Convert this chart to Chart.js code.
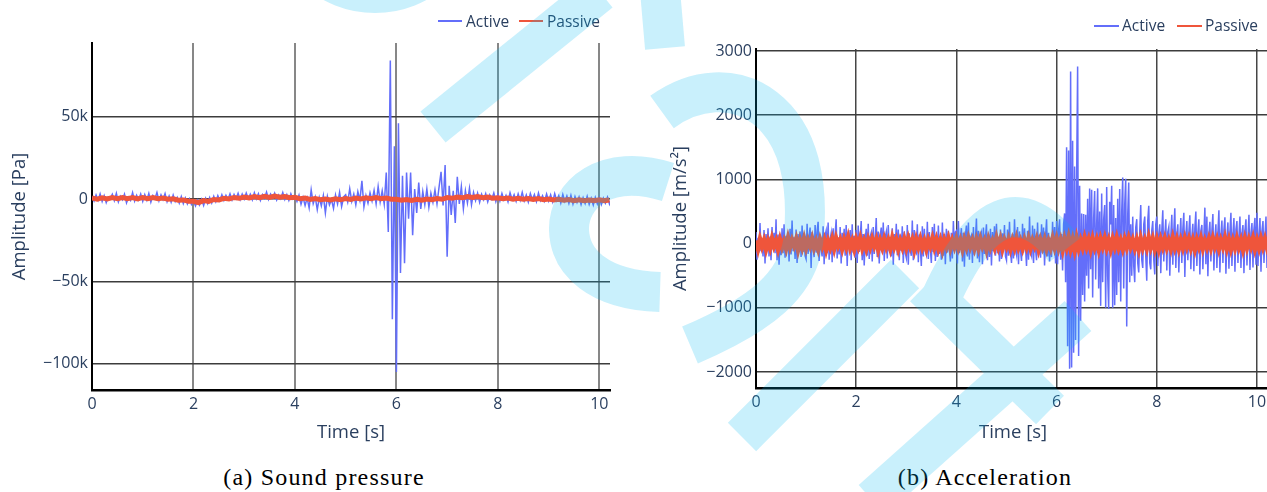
<!DOCTYPE html>
<html>
<head>
<meta charset="utf-8">
<script src="https://cdn.jsdelivr.net/npm/chart.js@4.4.1/dist/chart.umd.min.js"></script>
<style>
html, body { margin: 0; padding: 0; background: #fff; overflow: hidden; }
#page { position: relative; width: 1267px; height: 492px; overflow: hidden; background: #fff; }
canvas { position: absolute; top: 0; }
.sw { position: absolute; height: 2px; }
.lg { position: absolute; font-family: 'Open Sans', sans-serif; font-size: 15.5px; line-height: 20px; color: #2a3f5f; white-space: nowrap; }
.caption { position: absolute; top: 464px; font-family: 'Liberation Serif', serif; font-size: 24px; letter-spacing: 1.2px; color: #000; white-space: nowrap; transform: translateX(-50%); }
#mark { position: absolute; left: 0; top: 0; pointer-events: none; }
</style>
</head>
<body>
<div id="page">
  <canvas id="pressureChart" width="625" height="455" style="left:0px"></canvas>
  <canvas id="accelChart" width="635" height="455" style="left:640px"></canvas>

  <!-- legends -->
  <div class="sw" style="left:438px;top:20px;width:24px;background:#636efa"></div>
  <div class="lg" style="left:466px;top:11px">Active</div>
  <div class="sw" style="left:519px;top:20px;width:24px;background:#ef553b"></div>
  <div class="lg" style="left:547px;top:11px">Passive</div>

  <div class="sw" style="left:1094px;top:25px;width:25px;background:#636efa"></div>
  <div class="lg" style="left:1122px;top:15px">Active</div>
  <div class="sw" style="left:1177px;top:25px;width:25px;background:#ef553b"></div>
  <div class="lg" style="left:1205px;top:15px">Passive</div>

  <div class="caption" style="left:324px">(a) Sound pressure</div>
  <div class="caption" style="left:985px">(b) Acceleration</div>

  <!-- watermark -->
  <svg id="mark" width="1267" height="492" viewBox="0 0 1267 492">
    <g opacity="0.21" stroke="rgb(0,185,240)" fill="none" stroke-width="40">
      <circle cx="375" cy="-95" r="96" stroke-width="24"/>
      <path d="M433 127 L600 -8"/>
      <path d="M660 -10 L665 48"/>
      <path d="M662 112 C695 88 735 85 765 108 C800 135 808 185 804 235 C800 285 760 315 690 345"/>
      <path d="M668 182 C605 162 568 195 569 230 C570 262 598 290 660 292"/>
      <path d="M742 437 L905 274"/>
      <path d="M940 300 Q1000 165 1065 250"/>
      <path d="M872 500 L1078 316"/>
      <path d="M924 287 L1050 410"/>
    </g>
  </svg>
</div>

<script>
// axis ticks
const xTicks = [0, 2, 4, 6, 8, 10];
const pressureTicks = [-100000, -50000, 0, 50000];
const pressureTickLabels = ['\u2212100k', '\u221250k', '0', '50k'];
const accelTicks = [-2000, -1000, 0, 1000, 2000, 3000];
const accelTickLabels = ['\u22122000', '\u22121000', '0', '1000', '2000', '3000'];

// sample spacing (s) of the traces
const pressureActiveStep = 0.04;
const pressurePassiveStep = 0.1;
const accelActiveStep = 0.02;
const accelPassiveStep = 0.04;

// (a) sound pressure, kPa
const pressureActive = [
  1.5,-1.2,2.4,-0.8,3.1,-1.5,2.0,-2.2,1.2,0.3,2.8,-1.0,3.5,-1.8,1.6,-0.5,2.9,-2.4,1.1,-0.9,3.8,-1.3,2.2,-0.6,3.0,
  -1.4,2.6,-0.7,3.4,-1.9,2.1,0.2,3.9,-1.1,2.5,-0.4,3.2,-1.6,1.8,-2.0,2.3,-1.5,1.0,-2.5,1.4,-2.8,0.6,-3.0,0.1,-3.4,
  -1.2,-4.2,-0.8,-3.6,-0.2,-3.9,0.4,-2.8,0.9,-2.4,1.6,-1.7,2.0,-1.0,2.6,-0.9,2.2,-0.3,3.1,-0.6,2.8,0.2,3.4,-0.4,3.0,
  -0.1,3.6,0.3,2.9,-0.5,3.8,0.1,3.2,-0.8,2.7,0.4,4.2,-0.2,3.0,0.6,3.5,-0.6,2.4,0.2,3.9,-0.3,2.6,-0.9,3.1,0.0,
  1.8,-1.5,2.3,-3.2,1.0,-4.0,0.6,-5.5,5.5,-2.8,1.2,-6.5,0.8,-4.2,2.0,-8.5,1.5,-3.6,-0.3,-5.8,2.4,-3.0,4.0,-4.6,1.2,
  2.5,-2.0,6.2,-1.5,3.0,-3.5,4.4,-0.8,11.0,-4.8,2.1,-2.5,3.8,-1.2,5.2,-3.0,7.5,-1.8,5.0,-3.2,16.0,-20.0,84.0,-73.0,32.0,
  -105.0,46.0,-45.0,14.0,-39.0,16.0,-12.0,16.0,-22.0,6.0,-8.5,10.0,-6.0,4.5,-3.5,6.0,-5.0,3.5,-2.0,5.5,-3.0,7.0,16.5,-4.0,20.6,
  -35.0,8.0,-9.7,5.0,-14.5,13.5,-3.0,7.5,-6.0,5.0,-2.5,6.5,-3.5,4.0,-1.0,3.5,-2.0,2.8,-0.5,3.2,-1.8,2.5,-0.2,3.6,-1.5,
  2.9,-1.2,3.4,-0.6,2.2,-1.8,3.8,-0.3,2.6,-1.4,3.1,-0.8,4.0,-1.1,2.4,-1.9,3.3,-0.4,2.7,-1.6,3.6,-0.9,2.0,-1.3,3.0,
  -1.2,2.5,-1.8,3.2,-0.9,2.0,-2.4,2.7,-1.5,1.8,-2.6,2.2,-3.0,1.5,-2.2,1.2,-3.4,0.8,-2.8,1.6,-3.2,0.5,-3.6,1.0,-2.9,
  0.8,-3.4,0.4,-2.6,1.0,-3.1,0.2
];

// (a) sound pressure, kPa
const pressurePassive = [
  0.6,-0.1,0.7,0.0,0.8,0.1,0.9,0.2,0.8,0.0,
  0.9,0.2,0.8,0.1,0.6,-0.2,0.1,-0.8,-0.6,-1.4,
  -1.4,-2.2,-1.0,-1.5,-0.3,-0.6,0.4,0.0,0.9,0.4,
  1.2,0.6,1.5,0.8,1.6,0.9,1.7,1.0,1.5,0.8,
  1.0,0.2,0.5,-0.3,0.2,-0.5,0.0,-0.6,0.1,-0.4,
  0.2,-0.3,0.5,0.0,0.7,0.1,0.8,0.2,0.5,-0.2,
  -0.2,-0.8,-0.3,-0.9,-0.2,-0.7,0.0,-0.5,0.3,-0.2,
  0.8,0.4,1.2,0.7,1.5,0.9,1.4,0.8,1.1,0.5,
  0.7,0.1,0.5,-0.1,0.4,-0.2,0.3,-0.3,0.2,-0.4,
  0.0,-0.6,-0.2,-0.8,-0.4,-1.0,-0.5,-1.1,-0.6,-1.0,
  -0.5,-1.0,-0.6
];

// (b) acceleration, m/s²
const accelActive = [
  180,-250,90,-140,320,-120,60,-200,210,-310,150,-90,240,-200,110,-260,260,-90,170,-150,380,-260,140,-330,80,-180,240,-150,300,-220,120,-90,170,-280,230,-170,360,-120,100,-240,220,-300,150,-110,190,-210,280,-130,90,-190,
  -240,310,-160,110,250,-380,180,-60,-210,290,-140,200,340,-270,120,-90,-200,270,-320,130,200,-150,330,-250,70,160,-290,240,-180,150,380,-230,100,-170,260,-310,170,-110,230,-190,290,-350,140,-80,210,-260,300,-140,120,-220,
  210,-300,280,-130,90,350,-260,150,-340,60,230,-190,310,-240,110,170,-280,260,-160,70,400,-210,190,-310,130,250,-140,330,-270,100,180,-230,290,-120,80,-200,240,-330,150,-90,310,-180,220,-260,140,-110,270,-300,190,-150,
  -220,290,-330,160,-90,-190,360,-260,210,-120,-150,300,-290,140,-60,-350,270,-200,230,-110,-170,340,-240,180,-80,-300,260,-130,310,-270,120,-210,280,-160,90,-250,330,-190,150,-320,230,-140,200,-90,-280,170,-230,350,-110,180,
  200,-310,350,-150,80,240,-280,170,-360,120,280,-200,330,-250,90,130,-300,260,-180,60,390,-230,200,-290,110,170,-320,250,-160,90,300,-260,140,-210,230,-340,180,-120,270,-190,310,-150,100,-280,220,-240,160,-90,290,-200,
  -260,220,-190,340,-120,-300,150,-230,380,-80,-170,260,-320,190,-110,-270,310,-140,240,-60,-350,200,-250,420,-130,-190,280,-300,230,-90,-260,330,-180,140,-220,300,-150,250,-340,110,380,-200,170,-280,90,-210,340,-120,260,-310,
  350,-320,200,380,-250,150,-420,300,470,-600,1500,-1600,1450,-1950,2680,-1930,1600,-1700,1200,-1500,1000,2760,-1750,900,-1200,470,-800,460,-900,450,-500,700,-700,860,-400,840,-840,400,820,-560,300,860,-700,500,-970,780,-600,380,600,-1000,
  880,-500,-1020,650,300,900,-1000,600,-960,400,-800,700,-600,850,-900,500,1030,-700,600,1010,-1290,450,950,-600,300,-500,420,-350,-600,250,380,-300,-450,200,600,-250,-380,300,420,-200,-580,350,590,-300,-400,200,350,-250,-480,300,
  420,-350,150,300,-460,200,520,-280,100,380,-420,180,260,-500,120,450,-330,200,550,-380,150,300,-450,90,400,-300,220,480,-520,130,350,-260,170,440,-400,110,310,-430,240,500,-350,160,380,-480,200,290,-400,120,560,-320,
  420,-510,150,340,-280,200,460,-420,90,300,-380,170,520,-450,130,360,-300,210,410,-470,100,330,-390,180,480,-350,140,400,-440,220,350,-300,120,420,-380,160,290,-460,200,380,-340,110,450,-410,170,320,-370,230,400,-330,
  480,-350,150,400,-440,200,350,-300,120,420,-380,260,-320
];

// (b) acceleration, m/s² (centre of the thick passive band)
const accelPassive = [
  50,-70,60,-40,45,-80,30,-60,70,-35,40,-75,55,-50,35,-65,75,-45,50,-30,60,-85,40,-55,65,
  -60,45,-35,70,-55,30,-75,55,-40,50,-85,35,-50,60,-65,70,-30,45,-70,50,-45,80,-55,35,-75,
  55,-40,70,-60,35,-70,50,-45,65,-30,55,-80,40,-55,60,-45,45,-65,75,-40,50,-70,40,-50,60,
  -55,65,-40,50,-80,55,-45,60,-55,35,-75,50,-35,70,-50,55,-65,40,-85,50,-40,65,-60,45,-45,
  60,-55,40,-75,55,-45,70,-40,45,-65,50,-60,65,-35,40,-80,55,-50,35,-55,75,-45,60,-70,45,
  -40,55,-70,45,-55,70,-50,35,-65,50,-45,65,-60,45,-35,60,-75,50,-45,55,-70,35,-55,70,-50,
  65,-60,45,-85,60,-50,80,-70,50,-90,70,-65,45,-55,75,-45,55,-75,65,-50,50,-80,60,-40,70,
  -60,45,-75,60,-45,75,-55,40,-70,55,-50,70,-40,50,-65,45,-80,65,-55,45,-60,80,-45,60,-70,
  50,-75,55,-45,65,-55,40,-65,75,-50,55,-70,45,-55,70,-40,60,-60,45,-80,50,-45,65,-65,40,
  -50,60,-55,70,-40,55,-70,45,-45,75,-65,50,-75,40,-60,65,-50,45,-80,60,-55,55,-40,70,-70,
  45,-60,65,-45,60,-55,40
];

const textColor = '#2a3f5f';
const fontFamily = "'Open Sans', sans-serif";
const tickFont = { family: fontFamily, size: 16 };
const titleFont = { family: fontFamily, size: 18.5 };

// sample index -> time
function toPoints(values, step, scale) {
    return values.map((v, i) => ({ x: Math.round(i * step * 100) / 100, y: v * scale }));
}

function makeChart(id, cfg) {
    const ctx = document.getElementById(id).getContext('2d');
    return new Chart(ctx, {
        type: 'line',
        data: {
            datasets: [{
                label: 'Active',
                data: cfg.active,
                borderColor: '#636efa',
                borderWidth: cfg.activeWidth,
                pointRadius: 0,
                tension: 0,
                order: 1
            }, {
                label: 'Passive',
                data: cfg.passive,
                borderColor: '#ef553b',
                borderWidth: cfg.passiveWidth,
                pointRadius: 0,
                tension: 0,
                order: 0
            }]
        },
        options: {
            responsive: false,
            animation: false,
            events: [],
            devicePixelRatio: 1,
            layout: { padding: cfg.padding },
            plugins: {
                legend: { display: false }, // drawn in HTML
                tooltip: { enabled: false }
            },
            scales: {
                x: {
                    type: 'linear',
                    min: 0,
                    max: cfg.xMax,
                    afterBuildTicks: s => { s.ticks = xTicks.map(v => ({ value: v })); },
                    afterFit: s => { s.height = cfg.xHeight; },
                    ticks: { font: tickFont, color: textColor, padding: 5, maxRotation: 0, autoSkip: false },
                    grid: {
                        color: c => (c.tick && c.tick.value === 0) ? 'rgba(0,0,0,0)' : cfg.vGridColor,
                        lineWidth: cfg.vGridWidth,
                        drawTicks: false
                    },
                    border: { color: '#000', width: 2.5 },
                    title: {
                        display: true, text: 'Time [s]', font: titleFont, color: textColor,
                        padding: { top: 0, bottom: 11 }
                    }
                },
                y: {
                    type: 'linear',
                    min: cfg.yMin,
                    max: cfg.yMax,
                    afterBuildTicks: s => { s.ticks = cfg.yTicks.map(v => ({ value: v })); },
                    afterFit: s => { s.width = cfg.yWidth; },
                    ticks: {
                        font: tickFont, color: textColor, padding: 4, autoSkip: false,
                        callback: v => cfg.yLabels[cfg.yTicks.indexOf(v)]
                    },
                    grid: { color: cfg.hGridColor, lineWidth: 1.5, drawTicks: false },
                    border: { color: '#000', width: 2 },
                    title: {
                        display: true, text: cfg.yTitle, font: titleFont, color: textColor,
                        padding: { top: cfg.yTitlePad, bottom: 0 }
                    }
                }
            }
        }
    });
}

window.pressureChart = makeChart('pressureChart', {
    active: toPoints(pressureActive, pressureActiveStep, 1000),
    passive: toPoints(pressurePassive, pressurePassiveStep, 1000),
    activeWidth: 1.5,
    passiveWidth: 5,
    padding: { top: 43, right: 15, left: 0, bottom: 0 },
    xMax: 10.21, xHeight: 65,
    yMin: -115960, yMax: 94660,
    yTicks: pressureTicks, yLabels: pressureTickLabels,
    yWidth: 92, yTitle: 'Amplitude [Pa]', yTitlePad: 9,
    vGridColor: 'rgb(135,135,135)', vGridWidth: 2,
    hGridColor: 'rgb(60,60,60)'
});

window.accelChart = makeChart('accelChart', {
    active: toPoints(accelActive, accelActiveStep, 1),
    passive: toPoints(accelPassive, accelPassiveStep, 1),
    activeWidth: 1.5,
    passiveWidth: 5,
    padding: { top: 49, right: 5, left: 0, bottom: 0 },
    xMax: 10.26, xHeight: 67,
    yMin: -2249, yMax: 3031,
    yTicks: accelTicks, yLabels: accelTickLabels,
    yWidth: 116, yTitle: 'Amplitude [m/s\u00b2]', yTitlePad: 30,
    vGridColor: 'rgb(70,70,70)', vGridWidth: 1.5,
    hGridColor: 'rgb(60,60,60)'
});
</script>
</body>
</html>
